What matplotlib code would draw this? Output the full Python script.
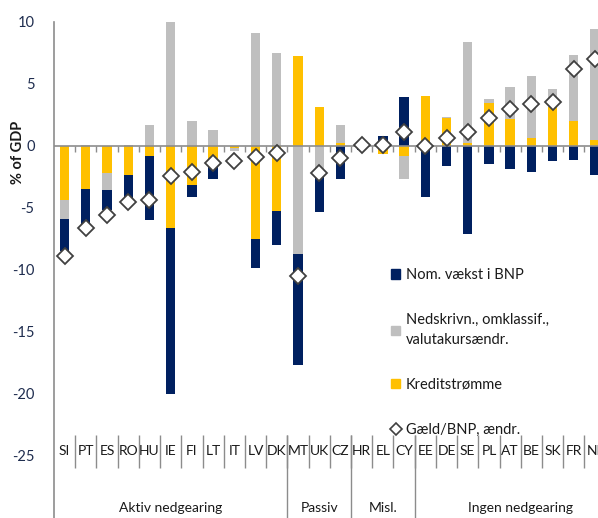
import numpy as np
import matplotlib
matplotlib.use("Agg")
import matplotlib.pyplot as plt
from matplotlib.patches import Patch
from matplotlib.lines import Line2D

plt.rcParams['font.family'] = ['Lato', 'DejaVu Sans']
plt.rcParams['axes.unicode_minus'] = False

countries = ["SI", "PT", "ES", "RO", "HU", "IE", "FI", "LT", "IT", "LV", "DK",
             "MT", "UK", "CZ", "HR", "EL", "CY",
             "EE", "DE", "SE", "PL", "AT", "BE", "SK", "FR", "NL"]
groups = ["Aktiv nedgearing", "Passiv", "Misl.", "Ingen nedgearing"]
group_sizes = [11, 3, 3, 9]

credit = [-4.4, -3.45, -2.2, -2.35, -0.8, -6.65, -3.15, -1.7, -0.15, -7.5, -5.25,
          7.2, 3.1, 0.25, 0.1, -0.65, -0.85,
          4.05, 2.2, 0.25, 3.45, 2.15, 0.65, 3.1, 2.0, 0.5]
writedowns = [-1.5, 0.1, -1.35, 0.1, 1.7, 10.0, 2.0, 1.3, -0.3, 9.1, 7.45,
              -8.7, -2.1, 1.45, 0.0, 0.0, -1.85,
              0.0, 0.1, 8.1, 0.35, 2.6, 4.95, 1.5, 5.3, 8.95]
nom_growth = [-2.6, -3.05, -1.6, -1.9, -5.15, -13.35, -0.95, -1.0, 0.0, -2.35, -2.75,
              -9.0, -3.2, -2.7, -0.35, 0.75, 3.95,
              -4.15, -1.65, -7.1, -1.5, -1.9, -2.1, -1.2, -1.15, -2.35]
debt_change = [-8.9, -6.65, -5.6, -4.5, -4.35, -2.45, -2.1, -1.35, -1.25, -0.9, -0.6,
               -10.5, -2.2, -1.0, 0.1, 0.05, 1.15,
               -0.05, 0.6, 1.15, 2.25, 2.95, 3.35, 3.55, 6.15, 7.0]

navy = "#002060"
grey = "#BFBFBF"
yellow = "#FFC000"
axis_col = "#8C8C8C"

fig = plt.figure(figsize=(5.98, 5.18), dpi=100)
ax = fig.add_axes([54 / 598, 0.0, 544 / 598, (518 - 21.7) / 518])

x = np.arange(len(countries))
w = 0.44
pos_base = np.zeros(len(x))
neg_base = np.zeros(len(x))
for vals, col in [(credit, yellow), (writedowns, grey), (nom_growth, navy)]:
    v = np.array(vals)
    base = np.where(v >= 0, pos_base, neg_base)
    ax.bar(x, v, w, bottom=base, color=col, zorder=2)
    pos_base += np.where(v >= 0, v, 0)
    neg_base += np.where(v < 0, v, 0)

ax.plot(x, debt_change, linestyle="none", marker="D", markersize=8.5,
        markerfacecolor="white", markeredgecolor="#404040", markeredgewidth=1.3, zorder=4)

ax.set_xlim(-0.5, 25.14)
ax.set_ylim(-30, 10)
ax.set_yticks(np.arange(-25, 11, 5))
ax.tick_params(axis="y", length=0, pad=14, labelsize=10.5, labelcolor="#1F2D4F")
ax.set_xticks([])
for s in ["top", "right", "bottom"]:
    ax.spines[s].set_visible(False)
ax.spines["left"].set_color(axis_col)
ax.spines["left"].set_linewidth(1.2)

# zero line with small ticks
ax.axhline(0, color=axis_col, linewidth=1.2, zorder=3)
bounds = np.arange(len(x)) + 0.5
ax.vlines(bounds, -0.5, 0, color=axis_col, linewidth=1, zorder=3)

# category labels
for xi, c in zip(x, countries):
    ax.text(xi, -24.6, c, ha="center", va="center", fontsize=10, color="#1a1a1a")
ax.vlines(bounds, -23.3, -26.0, color=axis_col, linewidth=1)

# group labels and separators
edges = np.cumsum(group_sizes)
starts = edges - np.array(group_sizes)
for g, s, e in zip(groups, starts, edges):
    center = (s + e - 1) / 2
    if g == "Ingen nedgearing":
        center += 0.5
    ax.text(center, -29.2, g, ha="center", va="center", fontsize=10, color="#1a1a1a")
ax.vlines(edges[:-1] - 0.5, -23.3, -30, color=axis_col, linewidth=1)

fig.text(18 / 598, 1 - 152 / 518, "% of GDP", rotation=90, ha="center", va="center",
         fontsize=10.5, fontweight="bold", color="#1a1a1a")

handles = [Patch(color=navy), Patch(color=grey), Patch(color=yellow),
           Line2D([], [], linestyle="none", marker="D", markersize=6,
                  markerfacecolor="white", markeredgecolor="#404040", markeredgewidth=1.2)]
labels = ["Nom. vækst i BNP", "Nedskrivn., omklassif.,\nvalutakursændr.",
          "Kreditstrømme", "Gæld/BNP, ændr."]
leg = fig.legend(handles, labels, loc="upper left", bbox_to_anchor=(378 / 598, 1 - 255 / 518),
                 frameon=False, fontsize=10.5, labelspacing=2.1, handlelength=0.6,
                 handleheight=0.6, handletextpad=0.4, labelcolor="#1a1a1a")
for t in leg.get_texts():
    t.set_linespacing(1.6)

fig.savefig("out.png", dpi=100)
